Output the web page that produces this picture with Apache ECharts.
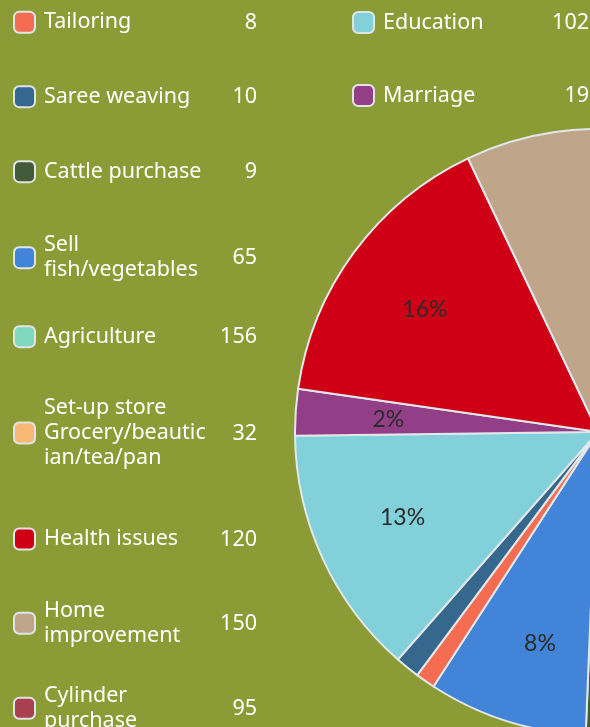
<!DOCTYPE html>
<html><head><meta charset="utf-8">
<script src="https://cdn.jsdelivr.net/npm/echarts@6/dist/echarts.min.js"></script>
<style>html,body{margin:0;padding:0;background:#8b9b35}#c{width:590px;height:727px}</style>
</head><body><div id="c"></div>
<script>
// ---- data ----
const categories = ['Tailoring','Saree weaving','Cattle purchase','Sell fish/vegetables','Agriculture',
  'Set-up store Grocery/beautician/tea/pan','Health issues','Home improvement','Cylinder purchase','Education','Marriage'];
const values = [8, 10, 9, 65, 156, 32, 120, 150, 95, 102, 19];
const legendText = ['Tailoring','Saree weaving','Cattle purchase','Sell\nfish/vegetables','Agriculture',
  'Set-up store\nGrocery/beautic\nian/tea/pan','Health issues','Home\nimprovement','Cylinder\npurchase','Education','Marriage'];
// order in which slices are drawn clockwise (indices into categories)
const sliceOrder = [2, 3, 0, 1, 9, 10, 6, 7, 4, 8, 5];

// ---- styles / layout ----
const palette = ['#f46d52','#36678d','#435a3b','#4285d8','#7fd9bc','#f6b874','#cf0016','#bfa68a','#a8404f','#82d1da','#923f88'];
const FONT = '"Noto Sans", sans-serif';
const LINE = 25;
// [legend left, icon centre y, value right edge]
const legendSlots = [
  [13,22.3,257],[13,96.7,257],[13,171.7,257],[13,257.7,257],[13,336.7,257],
  [13,433,257],[13,539,257],[13,623.3,257],[13,708.3,257],
  [352,22.5,589],[352,95.5,589]
];
// small nudges of percentage labels (pixels), by category index
const labelNudge = {6: [0, 5], 10: [5, 2], 9: [0, -4], 3: [7, 7]};

const chart = echarts.init(document.getElementById('c'), null, {renderer:'canvas'});
const pieData = sliceOrder.map(i => ({name: categories[i], value: values[i], itemStyle: {color: palette[i]}}));

const legends = [];
categories.forEach((name, i) => {
  const [left, cy, right] = legendSlots[i];
  const lines = legendText[i].split('\n').length;
  legends.push({
    data: [name], left: left, top: cy - LINE * lines / 2, orient: 'vertical', padding: 0,
    selectedMode: false, icon: 'roundRect', itemWidth: 21, itemHeight: 21,
    itemStyle: {borderColor: '#dfe5e7', borderWidth: 2},
    formatter: () => legendText[i],
    textStyle: {color: '#ffffff', fontFamily: FONT, fontSize: 21.5, lineHeight: LINE, padding: [0,0,0,4]}
  });
  legends.push({
    data: [name], left: right - 5 - 60, top: cy - LINE / 2 + 2, orient: 'vertical', padding: 0,
    selectedMode: false, icon: 'none', itemWidth: 0, itemHeight: 21,
    formatter: () => '{v|' + values[i] + '}',
    textStyle: {rich: {v: {width: 60, align: 'right', color: '#ffffff', fontFamily: FONT, fontSize: 21.5, lineHeight: LINE}}}
  });
});

const CENTER = [598, 432], R = 303, START = -88.1;
chart.setOption({
  backgroundColor: '#8b9b35',
  animation: false,
  legend: legends,
  series: [
    {
      type: 'pie', center: CENTER, radius: R, startAngle: START, clockwise: true,
      data: pieData, silent: true, emphasis: {disabled: true},
      label: {show: false}, labelLine: {show: false},
      itemStyle: {borderColor: '#e2e7e9', borderWidth: 2}
    },
    {
      type: 'pie', center: CENTER, radius: R * 1.4, startAngle: START, clockwise: true,
      data: sliceOrder.map(i => ({name: categories[i], value: values[i],
        label: labelNudge[i] ? {offset: labelNudge[i]} : undefined})),
      silent: true, emphasis: {disabled: true}, avoidLabelOverlap: false,
      itemStyle: {color: 'rgba(0,0,0,0)', borderWidth: 0},
      labelLine: {show: false},
      label: {
        show: true, position: 'inside', color: '#2b2b2b', fontFamily: 'Lato', fontSize: 23,
        formatter: p => { const v = Math.round(p.percent); return v < 2 ? '' : v + '%'; }
      }
    }
  ]
});
</script></body></html>
